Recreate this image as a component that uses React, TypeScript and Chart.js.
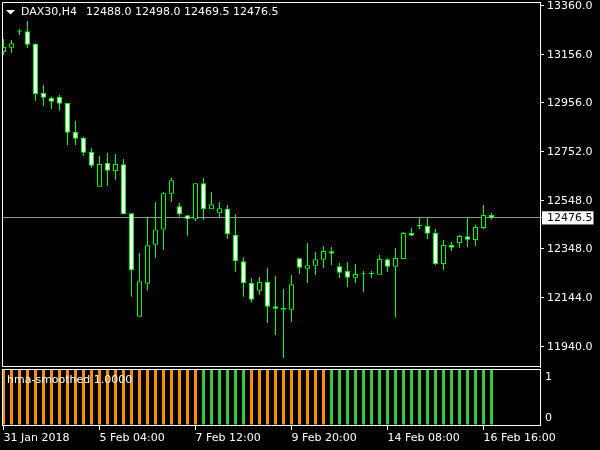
import React, { useEffect, useRef } from 'react';
import { Chart, registerables } from 'chart.js';

Chart.register(...registerables);

const symbolName = 'DAX30,H4';

const opens = [
  13167, 13185, 13252, 13253.5, 13200.5, 12996.5, 12975.5, 12980, 12955, 12834,
  12809, 12751, 12606.5, 12705, 12671.5, 12699.5, 12495.5, 12065, 12202.5, 12364.5,
  12428.5, 12577, 12524.5, 12487, 12470.5, 12620.5, 12512, 12495.5, 12514.5, 12406.5,
  12295.5, 12205, 12173, 12209.5, 12108, 12101, 12094, 12308, 12265, 12277.5,
  12302, 12337, 12275, 12255, 12227.5, 12241.5, 12242.5, 12240, 12304, 12273,
  12305, 12413.5, 12442.5, 12442.5, 12413.5, 12284.5, 12363.5, 12372, 12399.5, 12384.5,
  12434.5, 12488,
];
const highs = [
  13221.5, 13217, 13263, 13296.5, 13203.5, 13030, 12981, 12988, 12955, 12880,
  12814.5, 12767.5, 12734, 12746.5, 12742.5, 12721.5, 12497, 12330, 12479, 12542.5,
  12584, 12642.5, 12538.5, 12488.5, 12620.5, 12642.5, 12584, 12542.5, 12530, 12491.5,
  12312.5, 12225, 12230, 12268.5, 12234.5, 12180, 12238.5, 12308, 12372, 12334.5,
  12359.5, 12355, 12288.5, 12292.5, 12284.5, 12255, 12255, 12322, 12308, 12351,
  12417.5, 12434.5, 12476, 12476, 12430, 12384.5, 12376, 12405, 12476, 12447,
  12530, 12498,
];
const lows = [
  13155, 13164.5, 13238, 13184, 12963, 12942.5, 12930, 12923, 12780, 12778.5,
  12734, 12685.5, 12606.5, 12609, 12634, 12491.5, 12148, 12065, 12173, 12309.5,
  12344, 12542.5, 12481.5, 12402, 12463.5, 12469, 12512, 12479, 12389.5, 12252.5,
  12148, 12123, 12156.5, 12038.5, 11988.5, 11893, 12043, 12244, 12205, 12238.5,
  12267.5, 12280, 12226, 12188.5, 12205, 12167.5, 12226, 12240, 12251, 12060.5,
  12305, 12402, 12430, 12388.5, 12280, 12259.5, 12338.5, 12351, 12355, 12359.5,
  12430, 12469.5,
];
const closes = [
  13188, 13203.5, 13252, 13197.5, 12991, 12977, 12960.5, 12952, 12831, 12806,
  12748, 12694, 12701, 12673, 12701, 12491.5, 12258, 12212.5, 12362, 12428.5,
  12579, 12633, 12491.5, 12470.5, 12620.5, 12512, 12533, 12516.5, 12408, 12297,
  12204, 12135.5, 12209.5, 12106.5, 12098, 12094, 12200, 12269, 12279, 12304.5,
  12338.5, 12327.5, 12248, 12227.5, 12242.5, 12241.5, 12242.5, 12305, 12273, 12309.5,
  12413.5, 12402, 12442.5, 12410.5, 12284.5, 12363.5, 12352, 12401, 12385.5, 12438.5,
  12488, 12476.5,
];

const priceTicks = [13360, 13156, 12956, 12752, 12548, 12348, 12144, 11940];
const priceMin = 11855.4;
const priceMax = 13375.6;

const timeTickIndex = [0, 12, 24, 36, 48, 60];
const timeLabels = ['31 Jan 2018', '5 Feb 04:00', '7 Feb 12:00', '9 Feb 20:00', '14 Feb 08:00', '16 Feb 16:00'];

const hmaName = 'hma-smoothed';
const hmaValues = [
  1, 1, 1, 1, 1, 1, 1, 1, 1, 1,
  1, 1, 1, 1, 1, 1, 1, 1, 1, 1,
  1, 1, 1, 1, 1, 1, 1, 1, 1, 1,
  1, 1, 1, 1, 1, 1, 1, 1, 1, 1,
  1, 1, 1, 1, 1, 1, 1, 1, 1, 1,
  1, 1, 1, 1, 1, 1, 1, 1, 1, 1,
  1, 1,
];
// 1 = up (green), 0 = down (orange)
const hmaTrend = [
  0, 0, 0, 0, 0, 0, 0, 0, 0, 0,
  0, 0, 0, 0, 0, 0, 0, 0, 0, 0,
  0, 0, 0, 0, 0, 1, 1, 1, 1, 1,
  1, 0, 0, 0, 0, 0, 0, 0, 0, 0,
  0, 1, 1, 1, 1, 1, 1, 1, 1, 1,
  1, 1, 1, 1, 1, 1, 1, 1, 1, 1,
  1, 1,
];
const hmaLevels = [0, 1];

const X_MIN = -0.1875;
const X_MAX = 67.0625;

const FONT = { family: 'DejaVu Sans', size: 11 };
const GREEN = '#00ff00';
const BID_COLOR = '#969696';
const UP_COLOR = '#32cd32';
const DOWN_COLOR = '#ff8c00';

const framePlugin = {
  id: 'frame',
  afterDatasetsDraw(chart: any, _args: any, opts: any) {
    const { ctx, chartArea: a } = chart;
    ctx.save();
    ctx.strokeStyle = '#ffffff';
    ctx.lineWidth = 1;
    ctx.beginPath();
    ctx.moveTo(a.right, a.top + 0.5);
    ctx.lineTo(a.left + 0.5, a.top + 0.5);
    if (opts && opts.bottom) {
      ctx.lineTo(a.left + 0.5, a.bottom - 0.5);
      ctx.lineTo(a.right, a.bottom - 0.5);
    } else {
      ctx.lineTo(a.left + 0.5, a.bottom);
    }
    ctx.stroke();
    ctx.restore();
  },
};

export default function App() {
  const mainRef = useRef<HTMLCanvasElement>(null);
  const indRef = useRef<HTMLCanvasElement>(null);

  useEffect(() => {
    const n = closes.length;
    const bid = closes[n - 1];
    const idx = closes.map((_, i) => i);

    const headerPlugin = {
      id: 'header',
      afterDraw(chart: any) {
        const ctx = chart.ctx;
        ctx.save();
        ctx.fillStyle = '#ffffff';
        ctx.beginPath();
        ctx.moveTo(6, 10);
        ctx.lineTo(15, 10);
        ctx.lineTo(10.5, 14.5);
        ctx.closePath();
        ctx.fill();
        ctx.font = '11px "DejaVu Sans"';
        ctx.textBaseline = 'middle';
        ctx.textAlign = 'left';
        ctx.fillText(symbolName, 21, 12.5);
        const ohlc = [opens[n - 1], highs[n - 1], lows[n - 1], closes[n - 1]].map((v) => v.toFixed(1)).join(' ');
        ctx.fillText(ohlc, 86, 12.5);
        ctx.restore();
      },
    };

    const main = new Chart(mainRef.current!, {
      type: 'bar',
      data: {
        datasets: [
          {
            label: 'body',
            data: idx.map((i) => ({ x: i, y: [opens[i], closes[i]] })) as any,
            backgroundColor: idx.map((i) => (closes[i] < opens[i] ? '#ffffff' : '#000000')),
            borderColor: GREEN,
            borderWidth: 1,
            borderSkipped: false,
            barThickness: 5,
            minBarLength: 1,
            grouped: false,
            inflateAmount: 0,
            order: 0,
          } as any,
          {
            label: 'wick',
            data: idx.map((i) => ({ x: i, y: [lows[i], highs[i]] })) as any,
            backgroundColor: GREEN,
            borderWidth: 0,
            barThickness: 1,
            grouped: false,
            inflateAmount: 0,
            order: 1,
          } as any,
        ],
      },
      options: {
        animation: false,
        responsive: false,
        devicePixelRatio: 1,
        events: [],
        layout: { padding: { left: 2, top: 2, right: 0, bottom: 1 } },
        plugins: {
          legend: { display: false },
          tooltip: { enabled: false },
          frame: { bottom: true },
        } as any,
        scales: {
          x: {
            type: 'linear',
            display: false,
            min: X_MIN,
            max: X_MAX,
            offset: false,
            grid: { offset: false },
          },
          y: {
            type: 'linear',
            position: 'right',
            min: priceMin,
            max: priceMax,
            beginAtZero: false,
            afterBuildTicks: (s: any) => {
              s.ticks = [...priceTicks, bid].sort((a, b) => b - a).map((v) => ({ value: v }));
            },
            afterFit: (s: any) => {
              s.width = 60;
              s.paddingTop = 0;
              s.paddingBottom = 0;
            },
            border: { display: true, color: '#ffffff', width: 1 },
            grid: {
              drawOnChartArea: true,
              drawTicks: true,
              tickLength: 4,
              color: (c: any) => (c.tick && c.tick.value === bid ? BID_COLOR : 'rgba(0,0,0,0)'),
              tickColor: (c: any) => (c.tick && c.tick.value === bid ? BID_COLOR : '#ffffff'),
            },
            ticks: {
              autoSkip: false,
              padding: 3,
              font: FONT,
              color: (c: any) => (c.tick && c.tick.value === bid ? '#000000' : '#ffffff'),
              showLabelBackdrop: (c: any) => !!(c.tick && c.tick.value === bid),
              backdropColor: '#ffffff',
              backdropPadding: { left: 5, right: 1, top: 0, bottom: 0 },
              callback: (v: any) => Number(v).toFixed(1),
            } as any,
          },
        },
      } as any,
      plugins: [framePlugin, headerPlugin],
    });

    const indLabelPlugin = {
      id: 'indLabels',
      afterDraw(chart: any) {
        const ctx = chart.ctx;
        const ys = chart.scales.y;
        ctx.save();
        ctx.font = '11px "DejaVu Sans"';
        ctx.textBaseline = 'middle';
        ctx.textAlign = 'left';
        ctx.fillStyle = '#ffffff';
        ctx.fillText(hmaName + ' ' + hmaValues[n - 1].toFixed(4), 7, 12);
        hmaLevels.forEach((v) => {
          let py = ys.getPixelForValue(v);
          if (v === ys.max) py += 8.5;
          else if (v === ys.min) py -= 7;
          ctx.fillText(String(v), ys.left + 5, py);
        });
        ctx.restore();
      },
    };

    const ind = new Chart(indRef.current!, {
      type: 'bar',
      data: {
        datasets: [
          {
            label: hmaName,
            data: idx.map((i) => ({ x: i, y: hmaValues[i] })) as any,
            backgroundColor: idx.map((i) => (hmaTrend[i] === 1 ? UP_COLOR : DOWN_COLOR)),
            borderWidth: 0,
            barThickness: 3,
            grouped: false,
            inflateAmount: 0,
          } as any,
        ],
      },
      options: {
        animation: false,
        responsive: false,
        devicePixelRatio: 1,
        events: [],
        layout: { padding: { left: 2, top: 1, right: 0, bottom: 0 } },
        plugins: {
          legend: { display: false },
          tooltip: { enabled: false },
          frame: { bottom: false },
        } as any,
        scales: {
          x: {
            type: 'linear',
            min: X_MIN,
            max: X_MAX,
            offset: false,
            afterBuildTicks: (s: any) => {
              s.ticks = timeTickIndex.map((v) => ({ value: v }));
            },
            afterFit: (s: any) => {
              s.height = 25;
              s.paddingLeft = 0;
              s.paddingRight = 0;
            },
            border: { display: true, color: '#ffffff', width: 1 },
            grid: {
              offset: false,
              drawOnChartArea: false,
              drawTicks: true,
              tickLength: 5,
              tickColor: '#ffffff',
            },
            ticks: {
              autoSkip: false,
              maxRotation: 0,
              minRotation: 0,
              align: 'start',
              padding: 2,
              font: FONT,
              color: '#ffffff',
              callback: (_v: any, i: number) => timeLabels[i],
            },
          },
          y: {
            type: 'linear',
            position: 'right',
            min: 0,
            max: 1,
            afterBuildTicks: (s: any) => {
              s.ticks = hmaLevels.map((v) => ({ value: v }));
            },
            afterFit: (s: any) => {
              s.width = 60;
              s.paddingTop = 0;
              s.paddingBottom = 0;
            },
            border: { display: true, color: '#ffffff', width: 1 },
            grid: { drawOnChartArea: false, drawTicks: false },
            ticks: { display: false },
          },
        },
      } as any,
      plugins: [framePlugin, indLabelPlugin],
    });

    return () => {
      main.destroy();
      ind.destroy();
    };
  }, []);

  return (
    <div style={{ position: 'fixed', left: 0, top: 0, width: 600, height: 450, background: '#000000', overflow: 'hidden' }}>
      <canvas ref={mainRef} width={600} height={368} style={{ position: 'absolute', left: 0, top: 0 }} />
      <canvas ref={indRef} width={600} height={82} style={{ position: 'absolute', left: 0, top: 368 }} />
    </div>
  );
}
